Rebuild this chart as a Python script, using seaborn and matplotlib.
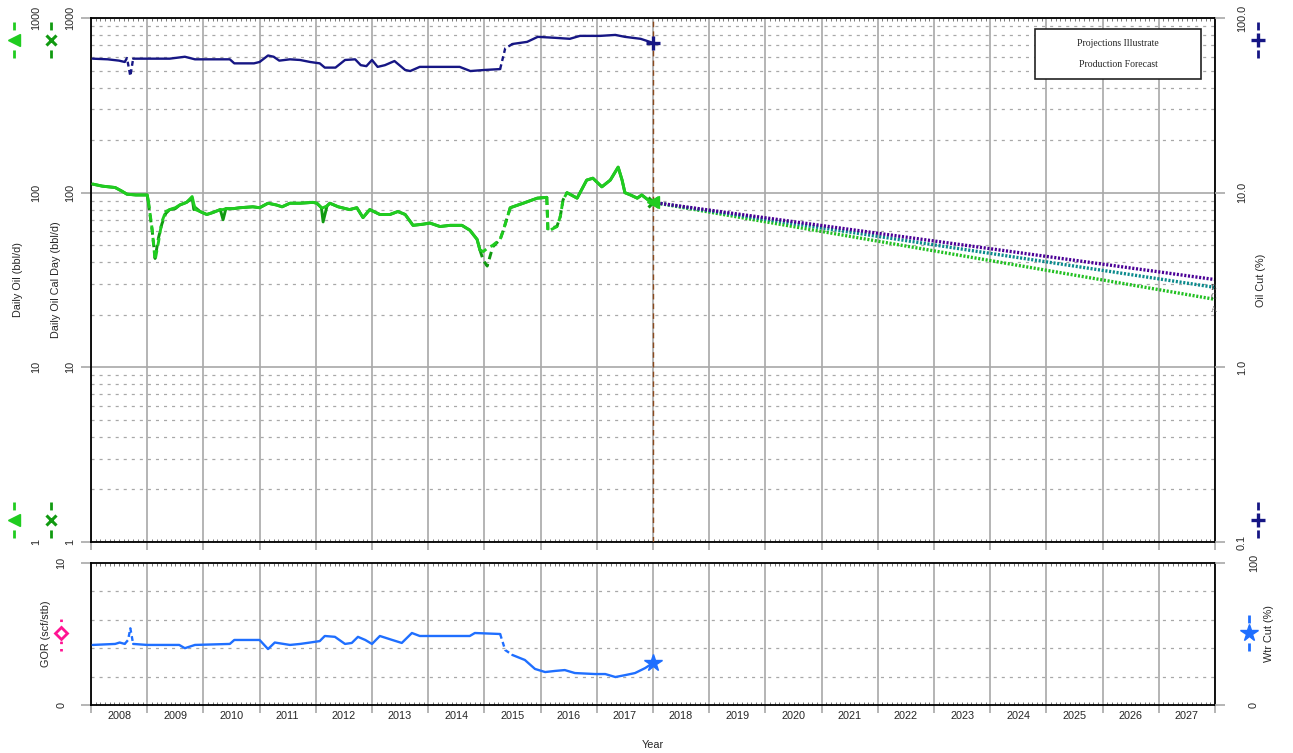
import numpy as np
import pandas as pd
import matplotlib
matplotlib.use("Agg")
import matplotlib.pyplot as plt
import seaborn as sns
from matplotlib.lines import Line2D
from matplotlib.patches import Rectangle
from matplotlib.ticker import FixedLocator, MultipleLocator, LogLocator, NullFormatter

# ---- data (decimal years) ----
oil_years = [2008.03, 2008.2, 2008.43, 2008.55, 2008.64, 2008.8,
             2009.0, 2009.02, 2009.09, 2009.14, 2009.2, 2009.26, 2009.33, 2009.4, 2009.5, 2009.58,
             2009.7, 2009.8, 2009.83, 2009.86, 2009.94,
             2010.06, 2010.17, 2010.3, 2010.35, 2010.4, 2010.53, 2010.65, 2010.88,
             2011.0, 2011.15, 2011.3, 2011.4, 2011.54, 2011.72, 2011.95,
             2012.02, 2012.1, 2012.13, 2012.2, 2012.25, 2012.4, 2012.6, 2012.73, 2012.84, 2012.96,
             2013.14, 2013.32, 2013.46, 2013.59, 2013.73, 2013.91,
             2014.03, 2014.21, 2014.39, 2014.6, 2014.74, 2014.87, 2014.92, 2014.98,
             2015.05, 2015.15, 2015.28, 2015.33, 2015.46, 2015.69, 2015.94,
             2016.11, 2016.13, 2016.29, 2016.35, 2016.4, 2016.47, 2016.65, 2016.82, 2016.93,
             2017.09, 2017.24, 2017.38, 2017.45, 2017.5, 2017.6, 2017.72, 2017.8, 2017.91,
             2018.0]
daily_oil = [112, 109, 107, 102, 98, 97,
             97, 90, 61, 41, 52, 68, 78, 80, 82, 85,
             88, 95, 86, 80, 78,
             75, 77, 80, 80, 81, 81, 82, 83,
             82, 87, 85, 83, 87, 87, 88,
             87, 82, 82, 84, 87, 83, 80, 82, 72, 80,
             75, 75, 78, 75, 65, 66,
             67, 64, 65, 65, 61, 54, 47, 46,
             48, 50, 54, 60, 82, 87, 93,
             94, 60, 64, 73, 91, 100, 93, 118, 121,
             108, 118, 140, 118, 100, 97, 93, 97, 91,
             88]
daily_oil_cal = [112, 109, 107, 102, 98, 97,
                 97, 88, 60, 42, 55, 66, 76, 80, 81, 85,
                 88, 93, 80, 82, 78,
                 75, 77, 80, 70, 81, 81, 82, 83,
                 82, 87, 85, 83, 87, 87, 88,
                 87, 82, 68, 84, 87, 83, 80, 82, 72, 80,
                 75, 75, 78, 75, 65, 66,
                 67, 64, 65, 65, 61, 54, 47, 41,
                 38, 49, 54, 60, 82, 87, 93,
                 94, 62, 64, 73, 91, 100, 93, 118, 121,
                 108, 118, 140, 118, 100, 97, 93, 97, 91,
                 88]

cut_years = [2008.03, 2008.3, 2008.5, 2008.6, 2008.64, 2008.7, 2008.75,
             2009.0, 2009.4, 2009.67, 2009.85,
             2010.47, 2010.55, 2010.9,
             2011.0, 2011.15, 2011.25, 2011.35, 2011.54, 2011.72, 2011.9,
             2012.07, 2012.16, 2012.35, 2012.52, 2012.7, 2012.8, 2012.9,
             2013.0, 2013.1, 2013.23, 2013.4, 2013.59, 2013.68, 2013.85,
             2014.2, 2014.56, 2014.75,
             2015.0, 2015.28, 2015.37, 2015.5, 2015.76, 2015.95,
             2016.26, 2016.52, 2016.7,
             2017.06, 2017.33, 2017.5, 2017.78,
             2018.0]
oil_cut = [58.5, 58, 57, 56, 59, 46.5, 58.5,
           58.5, 58.5, 60, 58,
           58, 55, 55,
           56, 61, 60, 57, 58, 57.5, 56,
           55, 52, 52, 57.5, 58, 53.7, 53,
           57.5, 52.5, 53.7, 56.7, 50.4, 49.7, 52.5,
           52.5, 52.5, 49.7,
           50.4, 51, 67, 71, 73, 78,
           77, 76, 79,
           79, 80, 78, 76,
           72]

wc_years = [2008.03, 2008.43, 2008.51, 2008.6, 2008.66, 2008.7, 2008.75,
            2009.0, 2009.57, 2009.67, 2009.85,
            2010.47, 2010.55,
            2011.0, 2011.15, 2011.27, 2011.54, 2011.72, 2011.9,
            2012.07, 2012.16, 2012.34, 2012.52, 2012.64, 2012.75, 2012.88,
            2013.0, 2013.14, 2013.36, 2013.53, 2013.71, 2013.85,
            2014.74, 2014.83,
            2015.28, 2015.37, 2015.5, 2015.72, 2015.9,
            2016.08, 2016.26, 2016.43, 2016.61, 2016.97,
            2017.15, 2017.33, 2017.5, 2017.68, 2017.86,
            2018.0]
water_cut = [42.3, 43, 44, 43, 45.8, 54, 43,
             42.3, 42.3, 40, 42.3,
             43, 45.8,
             45.8, 39.4, 44, 42.3, 43, 44,
             45, 48.6, 48, 43, 43.7, 48, 45.8,
             43, 48.6, 45.8, 43.7, 50.7, 48.6,
             48.6, 50.7,
             50, 38.7, 35.2, 31.7, 25.4,
             23.2, 24, 24.6, 22.5, 21.8,
             21.8, 19.7, 21, 22.5, 26,
             29.6]

fc_years = [2018.0, 2028.0]
fc_a = [88, 24.5]
fc_b = [88, 31.8]
fc_c = [88, 28.7]

year_centers = [2008.5, 2009.5, 2010.5, 2011.5, 2012.5, 2013.5, 2014.5, 2015.5, 2016.5, 2017.5,
                2018.5, 2019.5, 2020.5, 2021.5, 2022.5, 2023.5, 2024.5, 2025.5, 2026.5, 2027.5]
year_labels = ['2008', '2009', '2010', '2011', '2012', '2013', '2014', '2015', '2016', '2017',
               '2018', '2019', '2020', '2021', '2022', '2023', '2024', '2025', '2026', '2027']
rate_ticks = [1, 10, 100, 1000]
rate_labels = ['1', '10', '100', '1000']
cut_ticks = [0.1, 1, 10, 100]
cut_labels = ['0.1', '1.0', '10.0', '100.0']

# ---- styling ----
LIGHT_GREEN = '#20cc20'
DARK_GREEN = '#119a11'
NAVY = '#161684'
WC_BLUE = '#1f6fff'
PINK = '#ff1493'
FC_A, FC_B, FC_C = '#22c022', '#4b0096', '#0a8a8c'
BROWN = '#8b4a1e'
GRID = '#a8a8a8'
FS = 7.8

sns.set_style("white")
plt.rcParams['font.family'] = ['Liberation Sans', 'DejaVu Sans']
plt.rcParams['lines.scale_dashes'] = False

W, H = 1293, 753
fig = plt.figure(figsize=(W / 100, H / 100), dpi=100)


def fpos(l, t, r, b):
    return [l / W, 1 - b / H, (r - l) / W, (b - t) / H]


ax = fig.add_axes(fpos(91, 18, 1215, 542))
axb = fig.add_axes(fpos(91, 563, 1215, 705))


def style_x(a):
    a.set_xlim(2008, 2028)
    a.xaxis.set_major_locator(MultipleLocator(1))
    a.xaxis.set_minor_locator(MultipleLocator(1 / 12))
    a.tick_params(axis='x', which='major', bottom=True, length=6, width=1.2, color=GRID,
                  direction='out', labelbottom=False)
    a.tick_params(axis='x', which='minor', bottom=True, top=True, length=2.5, width=0.5,
                  color='#444444', direction='in')
    a.grid(True, axis='x', which='major', color=GRID, lw=1.2, ls='-')
    for s in a.spines.values():
        s.set_visible(True)
        s.set_color('black')
        s.set_linewidth(1.3)


def hide_spines(a):
    for s in a.spines.values():
        s.set_visible(False)


def draw_runs(a, years, values, color, lw, spans, dash):
    # split into solid / dashed stretches
    def dashed(i):
        return any(s0 <= years[i] and years[i + 1] <= s1 for s0, s1 in spans)
    runs, start = [], 0
    for i in range(1, len(years) - 1):
        if dashed(i) != dashed(i - 1):
            runs.append((start, i, dashed(i - 1)))
            start = i
    runs.append((start, len(years) - 1, dashed(len(years) - 2)))
    for s, e, d in runs:
        df = pd.DataFrame({'year': years[s:e + 1], 'value': values[s:e + 1]})
        sns.lineplot(data=df, x='year', y='value', ax=a, color=color, lw=lw,
                     linestyle=dash if d else '-', estimator=None, sort=False, legend=False)
    a.set_xlabel('')
    a.set_ylabel('')


# ---- top panel: rates ----
style_x(ax)
ax.set_yscale('log')
ax.set_ylim(1, 1000)
ax.set_yticks(rate_ticks, rate_labels, rotation=90, va='center', fontsize=FS)
ax.yaxis.set_minor_locator(LogLocator(base=10, subs=np.arange(2, 10)))
ax.yaxis.set_minor_formatter(NullFormatter())
ax.tick_params(axis='y', which='major', left=True, length=7, width=1.2, color=GRID, pad=4.3)
ax.tick_params(axis='y', which='minor', length=0)
ax.grid(True, axis='y', which='major', color=GRID, lw=1.2, ls='-')
ax.grid(True, axis='y', which='minor', color=GRID, lw=0.9, ls=(0, (2.2, 3.6)))

green_spans = [(2009.02, 2009.33), (2014.92, 2015.46), (2016.11, 2016.47)]
draw_runs(ax, oil_years, daily_oil_cal, DARK_GREEN, 2.1, green_spans, (0, (5.5, 3.5)))
ax.plot(oil_years[-1], daily_oil_cal[-1], marker='x', ms=7, mew=2.2, color=DARK_GREEN)

for yv, col in [(fc_a, FC_A), (fc_c, FC_C), (fc_b, FC_B)]:
    sns.lineplot(x=fc_years, y=yv, ax=ax, color=col, lw=2.4, linestyle=(0, (1.5, 1.2)),
                 estimator=None, legend=False)
for txt, yv, off in [('B', fc_b, -5.8), ('C', fc_c, -7.2), ('A', fc_a, -8.0)]:
    ax.annotate(txt, xy=(fc_years[-1], yv[-1]), xytext=(-1, off), textcoords='offset points',
                ha='center', va='center', fontsize=6, family='Liberation Serif', color='#444444')
ax.axvline(fc_years[0], color=BROWN, lw=1.0, ls=(0, (4, 3)), zorder=3)

ax.set_ylabel('Daily Oil Cal Day (bbl/d)', fontsize=FS)
ax.yaxis.set_label_coords(-0.0267, 0.5)

ax.add_patch(Rectangle((0.840, 0.8836), 0.1475, 0.0955, transform=ax.transAxes,
                       fc='white', ec='#222222', lw=1.2, zorder=6))
ax.text(0.9137, 0.9504, 'Projections Illustrate', transform=ax.transAxes, ha='center',
        va='center', fontsize=7, family='Liberation Serif', zorder=7)
ax.text(0.9137, 0.9122, 'Production Forecast', transform=ax.transAxes, ha='center',
        va='center', fontsize=7, family='Liberation Serif', zorder=7)

# daily oil on its own outer axis
ax_oil = ax.twinx()
hide_spines(ax_oil)
ax_oil.set_yscale('log')
ax_oil.set_ylim(1, 1000)
ax_oil.yaxis.tick_left()
ax_oil.yaxis.set_label_position('left')
ax_oil.set_yticks(rate_ticks, rate_labels, rotation=90, va='center', fontsize=FS)
ax_oil.yaxis.set_minor_formatter(NullFormatter())
ax_oil.tick_params(axis='y', which='major', length=0, pad=36)
ax_oil.tick_params(axis='y', which='minor', length=0)
draw_runs(ax_oil, oil_years, daily_oil, LIGHT_GREEN, 2.1, green_spans, (0, (5.5, 3.5)))
ax_oil.plot(oil_years[-1], daily_oil[-1], marker='<', ms=8, color=LIGHT_GREEN)
ax_oil.set_ylabel('Daily Oil (bbl/d)', fontsize=FS)
ax_oil.yaxis.set_label_coords(-0.0605, 0.5)

# oil cut on the right
ax_cut = ax.twinx()
hide_spines(ax_cut)
ax_cut.set_yscale('log')
ax_cut.set_ylim(0.1, 100)
ax_cut.set_yticks(cut_ticks, cut_labels, rotation=90, va='center', fontsize=FS)
ax_cut.yaxis.set_minor_formatter(NullFormatter())
ax_cut.tick_params(axis='y', which='major', right=True, length=7, width=1.2, color=GRID, pad=8.6)
ax_cut.tick_params(axis='y', which='minor', length=0)
draw_runs(ax_cut, cut_years, oil_cut, NAVY, 1.7, [(2008.6, 2008.75), (2015.28, 2015.5)],
          (0, (3.5, 2.5)))
ax_cut.plot(cut_years[-1], oil_cut[-1], marker='+', ms=10, mew=2.4, color=NAVY)
ax_cut.set_ylabel('Oil Cut (%)', fontsize=FS)
ax_cut.yaxis.set_label_coords(1.0365, 0.5)

# ---- bottom panel: GOR / water cut ----
style_x(axb)
axb.set_ylim(0, 10)
axb.set_yticks([0, 10], ['0', '10'], rotation=90, va='center', fontsize=FS)
axb.yaxis.set_minor_locator(FixedLocator([2, 4, 6, 8]))
axb.tick_params(axis='y', which='major', left=True, length=7, width=1.2, color=GRID, pad=10.8)
axb.tick_params(axis='y', which='minor', length=0)
axb.grid(True, axis='y', which='minor', color=GRID, lw=0.9, ls=(0, (2.2, 3.6)))
axb.set_ylabel('GOR (scf/stb)', fontsize=FS)
axb.yaxis.set_label_coords(-0.0356, 0.5)

ax_wc = axb.twinx()
hide_spines(ax_wc)
ax_wc.set_ylim(0, 100)
ax_wc.set_yticks([0, 100], ['0', '100'], rotation=90, va='center', fontsize=FS)
ax_wc.tick_params(axis='y', which='major', right=True, length=7, width=1.2, color=GRID, pad=17.3)
draw_runs(ax_wc, wc_years, water_cut, WC_BLUE, 1.7, [(2008.6, 2008.75), (2015.28, 2015.5)],
          (0, (3.5, 2.5)))
ax_wc.plot(wc_years[-1], water_cut[-1], marker='*', ms=13, color=WC_BLUE)
ax_wc.set_ylabel('Wtr Cut (%)', fontsize=FS)
ax_wc.yaxis.set_label_coords(1.0436, 0.5)

sec = axb.secondary_xaxis('bottom')
sec.set_xticks(year_centers, year_labels, fontsize=FS)
sec.tick_params(axis='x', length=0, pad=4.3)
sec.spines['bottom'].set_visible(False)
sec.set_xlabel('Year', fontsize=FS, labelpad=14)


# ---- axis legend glyphs beside the tick labels ----
def glyph(xp, yp, color, marker, ms, mew, mfc, ls):
    x, y = xp / W, 1 - yp / H
    fig.add_artist(Line2D([x, x], [y - 18 / H, y + 18 / H], transform=fig.transFigure,
                          color=color, lw=2, ls=ls))
    fig.add_artist(Line2D([x], [y], transform=fig.transFigure, color=color, marker=marker,
                          ms=ms, mew=mew, mfc=mfc, ls='none'))


gap = (0, (5.8, 14.4))
for yp in (40, 520):
    glyph(14, yp, LIGHT_GREEN, '<', 8, 1, LIGHT_GREEN, gap)
    glyph(51, yp, DARK_GREEN, 'x', 7, 2.2, DARK_GREEN, gap)
    glyph(1258, yp, NAVY, '+', 10, 2.4, NAVY, gap)
glyph(61, 633, PINK, 'D', 6.5, 2, 'white', (0, (1.8, 3.5)))
glyph(1249, 633, WC_BLUE, '*', 13, 1, WC_BLUE, (0, (5.8, 14.4)))

fig.savefig('out.png', dpi=100)
